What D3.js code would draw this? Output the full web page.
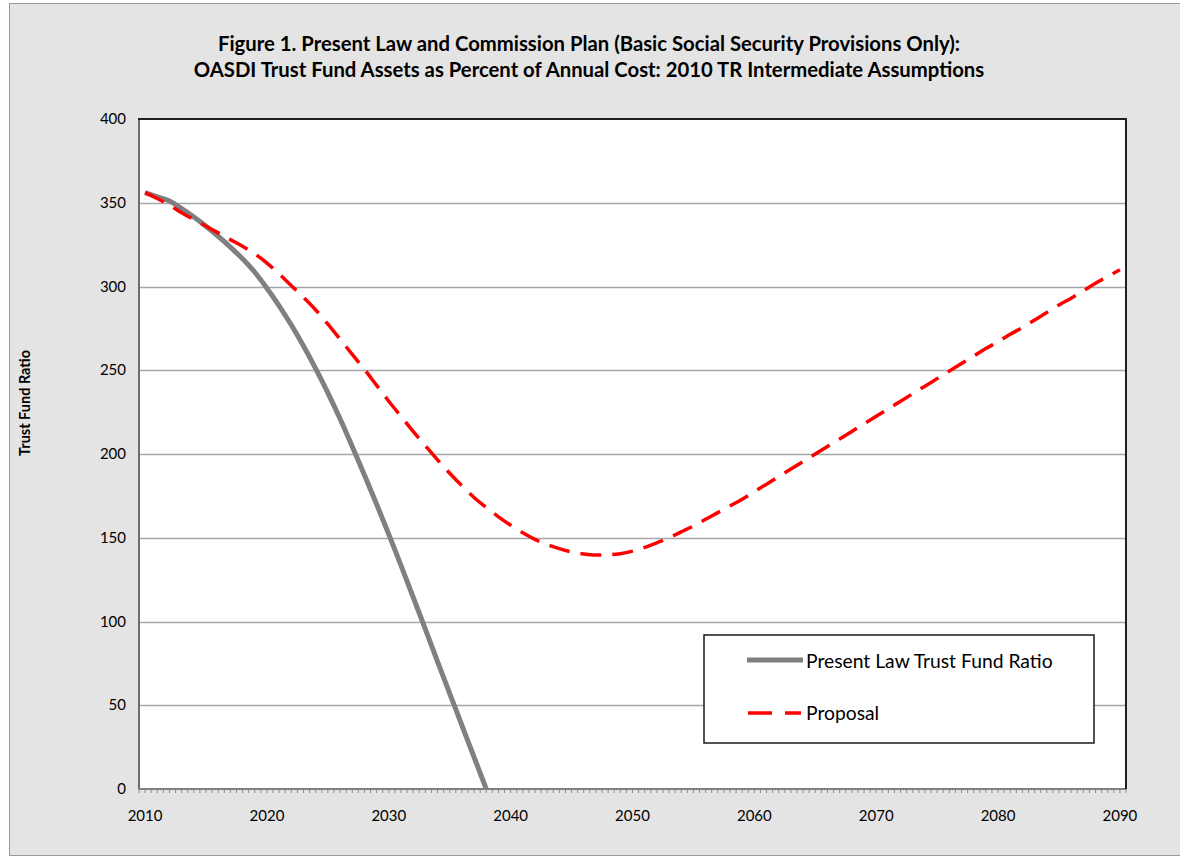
<!DOCTYPE html>
<html><head><meta charset="utf-8">
<script src="https://cdn.jsdelivr.net/npm/d3@7/dist/d3.min.js"></script>
<style>body{margin:0;background:#fff;}svg{display:block;}</style>
</head><body>
<svg id="c" width="1180" height="859"></svg>
<script>
const titleLines = ["Figure 1. Present Law and Commission Plan (Basic Social Security Provisions Only):",
  "OASDI Trust Fund Assets as Percent of Annual Cost: 2010 TR Intermediate Assumptions"];
const yAxisTitle = "Trust Fund Ratio";
const seriesNames = ["Present Law Trust Fund Ratio", "Proposal"];
const years = d3.range(2010, 2091);
const xTickLabels = [2010, 2020, 2030, 2040, 2050, 2060, 2070, 2080, 2090];
const yTicks = [0, 50, 100, 150, 200, 250, 300, 350, 400];
const presentLawYears = d3.range(2010, 2039);
const presentLaw = [356, 353.5, 351, 346.5, 341.5, 336, 330, 323.5, 316.5, 308.5, 299, 288.5, 277, 264.5, 251, 236.5, 221, 204.5, 187.5, 170,
  152, 133.5, 114.5, 95.5, 76, 57, 38, 19, 0];
const proposal = [356, 352.5, 348.5, 344, 340, 336, 332, 328, 324, 319.5, 314, 307.5, 300.5, 293.5, 286, 277.5, 268.5, 259.5, 250.5, 241,
  231.5, 222.5, 213.5, 205, 196.5, 188.5, 181, 174, 168, 162.5, 157.5, 153, 149, 146, 143.5, 141.5, 140.3, 139.7, 139.8, 140.5,
  142, 144.2, 147, 150, 153.5, 157, 161, 165, 169, 173, 177.5, 182, 186.5, 191, 195.5, 200, 204.5, 209, 213.5, 218,
  222.5, 227, 231.5, 236, 240.5, 245, 249.5, 254, 258.5, 263, 267, 271.5, 275.5, 280, 284.5, 289, 293, 297.5, 302, 306, 310];

const svg = d3.select("#c");
const F = "Lato, 'Open Sans', sans-serif";
svg.append("rect").attr("x", 9.5).attr("y", 3.5).attr("width", 1180).attr("height", 852)
  .attr("fill", "#e4e4e4").attr("stroke", "#9a9a9a").attr("stroke-width", 1);

const L = 139, R = 1126, T = 119, B = 789;
const x = d3.scalePoint().domain(years).range([L, R]).padding(0.5);
const y = d3.scaleLinear().domain([0, 400]).range([B, T]);
const step = x.step();

svg.append("rect").attr("x", L).attr("y", T).attr("width", R - L).attr("height", B - T).attr("fill", "#fff");

svg.append("g").selectAll("line").data(yTicks.filter(d => d > 0 && d < 400)).join("line")
  .attr("x1", L).attr("x2", R).attr("y1", d => Math.round(y(d)) + 0.5).attr("y2", d => Math.round(y(d)) + 0.5)
  .attr("stroke", "#a6a6a6").attr("stroke-width", 1.3);

svg.append("g").selectAll("text").data(yTicks).join("text")
  .attr("x", 126).attr("y", d => y(d) + 5).attr("text-anchor", "end")
  .attr("font-family", F).attr("font-size", 15).attr("fill", "#000").text(d => d);

const tickPos = d3.range(0, years.length * 2 + 1).map(i => L + i * step / 2);
svg.append("g").selectAll("line").data(tickPos).join("line")
  .attr("x1", d => d).attr("x2", d => d).attr("y1", B).attr("y2", B + 4)
  .attr("stroke", "#8c8c8c").attr("stroke-width", 1);

svg.append("g").selectAll("text").data(xTickLabels).join("text")
  .attr("x", d => x(d)).attr("y", 821).attr("text-anchor", "middle")
  .attr("font-family", F).attr("font-size", 15).attr("fill", "#000").text(d => d);

svg.append("line").attr("x1", L).attr("x2", L).attr("y1", T).attr("y2", B).attr("stroke", "#6e6e6e").attr("stroke-width", 2);
svg.append("line").attr("x1", L).attr("x2", R).attr("y1", B).attr("y2", B).attr("stroke", "#808080").attr("stroke-width", 2);
svg.append("line").attr("x1", L - 1).attr("x2", R + 1).attr("y1", T).attr("y2", T).attr("stroke", "#1e1e1e").attr("stroke-width", 2);
svg.append("line").attr("x1", R).attr("x2", R).attr("y1", T).attr("y2", B).attr("stroke", "#1e1e1e").attr("stroke-width", 2);

const line = d3.line().x(d => x(d[0])).y(d => y(d[1])).curve(d3.curveMonotoneX);
svg.append("path").datum(presentLawYears.map((yr, i) => [yr, presentLaw[i]]))
  .attr("d", line).attr("fill", "none").attr("stroke", "#808080").attr("stroke-width", 5).attr("stroke-linejoin", "round");
svg.append("path").datum(years.map((yr, i) => [yr, proposal[i]]))
  .attr("d", line).attr("fill", "none").attr("stroke", "#ff0000").attr("stroke-width", 3.5).attr("stroke-dasharray", "21,11");

svg.append("g").selectAll("text").data(titleLines).join("text")
  .attr("x", 589).attr("y", (d, i) => 51 + i * 25.5).attr("text-anchor", "middle")
  .attr("font-family", F).attr("font-weight", "bold").attr("font-size", 20.3).attr("fill", "#000").text(d => d);

svg.append("text").attr("transform", "translate(30,403) rotate(-90)").attr("text-anchor", "middle")
  .attr("font-family", F).attr("font-weight", "bold").attr("font-size", 14.5).attr("fill", "#000").text(yAxisTitle);

const lg = svg.append("g");
lg.append("rect").attr("x", 704).attr("y", 635).attr("width", 390).attr("height", 108)
  .attr("fill", "#fff").attr("stroke", "#1a1a1a").attr("stroke-width", 1.5);
lg.append("line").attr("x1", 747).attr("x2", 803).attr("y1", 660).attr("y2", 660).attr("stroke", "#808080").attr("stroke-width", 5);
lg.append("line").attr("x1", 748).attr("x2", 801).attr("y1", 713).attr("y2", 713).attr("stroke", "#ff0000").attr("stroke-width", 3.5).attr("stroke-dasharray", "24,13");
lg.selectAll("text.l").data(seriesNames).join("text")
  .attr("x", 806).attr("y", (d, i) => 668 + i * 52).attr("font-family", F).attr("font-size", 19.3).attr("fill", "#000").text(d => d);
</script>
</body></html>
